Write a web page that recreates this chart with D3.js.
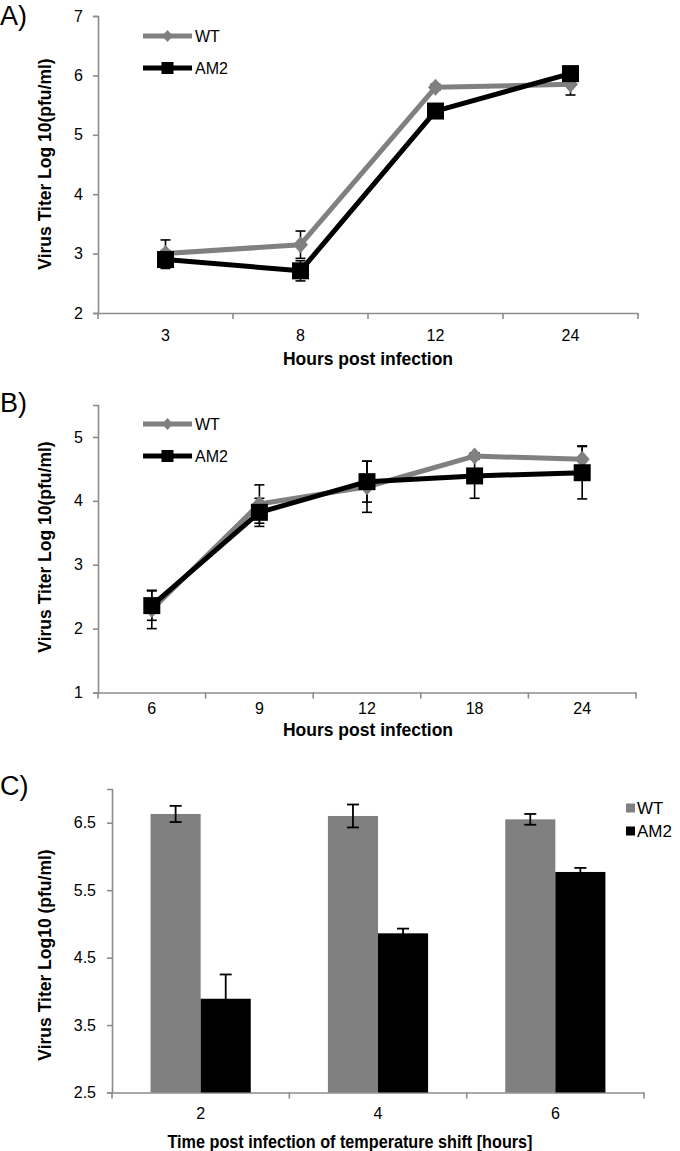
<!DOCTYPE html>
<html><head><meta charset="utf-8">
<script src="https://cdn.jsdelivr.net/npm/d3@7"></script>
<style>body{margin:0;background:#fff}svg{display:block;font-family:"Liberation Sans",Arial,sans-serif}</style>
</head><body><svg id="c" width="680" height="1151"></svg>
<script>
// Panel A
const aCats = ["3","8","12","24"];
const aWT = [3.0, 3.15, 5.8, 5.85];
const aWTerr = [0.23, 0.23, 0.05, 0.18];
const aAM2 = [2.9, 2.71, 5.4, 6.03];
const aAM2err = [0.15, 0.17, 0.1, 0.05];
const aTicks = [2,3,4,5,6,7];
// Panel B
const bCats = ["6","9","12","18","24"];
const bWT = [2.3, 3.95, 4.22, 4.7, 4.65];
const bWTerr = [0.3, 0.3, 0.4, 0.05, 0.21];
const bAM2 = [2.36, 3.82, 4.3, 4.39, 4.44];
const bAM2err = [0.23, 0.22, 0.32, 0.35, 0.41];
const bTicks = [1,2,3,4,5];
// Panel C
const cCats = ["2","4","6"];
const cWT = [6.63, 6.6, 6.55];
const cWTerr = [0.12, 0.17, 0.08];
const cAM2 = [3.89, 4.86, 5.77];
const cAM2err = [0.36, 0.07, 0.06];
const cTicks = [2.5,3.5,4.5,5.5,6.5];
const seriesNames = ["WT","AM2"];

const svg = d3.select("#c");
const GREY = "#808080", AXIS = "#8c8c8c";
const FONT = 16, TFONT = 17.5, PFONT = 27;

function styleAxis(g){
  g.select(".domain").attr("stroke",AXIS).attr("stroke-width",1.6);
  g.selectAll(".tick line").attr("stroke",AXIS).attr("stroke-width",1.6);
  g.selectAll(".tick text").attr("fill","#000").attr("font-size",FONT).attr("font-family","Liberation Sans, Arial, sans-serif");
}

function linePanel(o){
  const x = d3.scaleBand().domain(o.cats).range([o.x0,o.x1]);
  const y = d3.scaleLinear().domain(o.ydom).range([o.y1,o.y0]);
  const gy = svg.append("g").attr("transform",`translate(${o.x0},0)`)
    .call(d3.axisLeft(y).tickValues(o.ticks).tickSize(5).tickPadding(10).tickFormat(d3.format("d")));
  styleAxis(gy);
  const gx = svg.append("g").attr("transform",`translate(0,${o.y1})`)
    .call(d3.axisBottom(x).tickSize(0).tickPadding(o.xpad));
  styleAxis(gx);
  const bounds = o.cats.map(c=>x(c)).concat([o.x1]);
  gx.selectAll(".btick").data(bounds).enter().append("line")
    .attr("x1",d=>d).attr("x2",d=>d).attr("y1",0).attr("y2",6)
    .attr("stroke",AXIS).attr("stroke-width",1.6);
  svg.append("text").attr("x",o.xtx).attr("y",o.xty).attr("text-anchor","middle")
    .attr("font-weight","bold").attr("font-size",TFONT).text("Hours post infection");
  svg.append("text").attr("transform",`translate(${o.ytx},${o.yty}) rotate(-90)`).attr("text-anchor","middle")
    .attr("font-weight","bold").attr("font-size",TFONT).text("Virus Titer Log 10(pfu/ml)");
  svg.append("text").attr("x",0).attr("y",o.laby).attr("font-size",PFONT).text(o.label);
  const cx = c => x(c)+x.bandwidth()/2;
  const line = d3.line().x((d,i)=>cx(o.cats[i])).y(d=>y(d));
  const series = [
    {vals:o.wt, err:o.wterr, color:GREY, m:"diamond"},
    {vals:o.am, err:o.amerr, color:"#000", m:"square"}
  ];
  series.forEach(s=>{
    s.vals.forEach((v,i)=>{
      const g = svg.append("g").attr("stroke","#000").attr("stroke-width",1.6);
      const X = cx(o.cats[i]);
      g.append("line").attr("x1",X).attr("x2",X).attr("y1",y(v+s.err[i])).attr("y2",y(v-s.err[i]));
      [v+s.err[i], v-s.err[i]].forEach(e=>g.append("line").attr("x1",X-5).attr("x2",X+5).attr("y1",y(e)).attr("y2",y(e)));
    });
  });
  series.forEach(s=>{
    svg.append("path").datum(s.vals).attr("d",line).attr("fill","none")
      .attr("stroke",s.color).attr("stroke-width",5).attr("stroke-linejoin","round");
    s.vals.forEach((v,i)=>{
      const X = cx(o.cats[i]), Y = y(v);
      if(s.m==="diamond"){
        svg.append("path").attr("d",`M${X},${Y-8.5}L${X+7.5},${Y}L${X},${Y+8.5}L${X-7.5},${Y}Z`).attr("fill",s.color);
      } else {
        svg.append("rect").attr("x",X-8.5).attr("y",Y-8.5).attr("width",17).attr("height",17).attr("fill",s.color);
      }
    });
  });
  seriesNames.forEach((n,i)=>{
    const Y = o.legY[i];
    svg.append("line").attr("x1",143).attr("x2",192).attr("y1",Y).attr("y2",Y)
      .attr("stroke",i?"#000":GREY).attr("stroke-width",5);
    if(i) svg.append("rect").attr("x",161.5).attr("y",Y-6).attr("width",12).attr("height",12).attr("fill","#000");
    else svg.append("path").attr("d",`M167.5,${Y-6}L173,${Y}L167.5,${Y+6}L162,${Y}Z`).attr("fill",GREY);
    svg.append("text").attr("x",195).attr("y",Y+6).attr("font-size",FONT).text(n);
  });
}

linePanel({cats:aCats, wt:aWT, wterr:aWTerr, am:aAM2, amerr:aAM2err, ticks:aTicks,
  ydom:[2,7], x0:98, x1:638, y0:16, y1:313, xpad:16.6, xtx:368, xty:365, ytx:51, yty:164,
  label:"A)", laby:25, legY:[36,68]});
linePanel({cats:bCats, wt:bWT, wterr:bWTerr, am:bAM2, amerr:bAM2err, ticks:bTicks,
  ydom:[1,5.5], x0:98, x1:636, y0:405, y1:692.5, xpad:10.2, xtx:368, xty:736, ytx:51, yty:547,
  label:"B)", laby:412, legY:[424,456]});

// Panel C (bar chart)
(function(){
  const x0=112, x1=644, y0=789, y1=1092.5;
  const x = d3.scaleBand().domain(cCats).range([x0,x1]).paddingInner(0.435).paddingOuter(0.2175);
  const xs = d3.scaleBand().domain(seriesNames).range([0,x.bandwidth()]);
  const y = d3.scaleLinear().domain([2.5,7]).range([y1,y0]);
  const gy = svg.append("g").attr("transform",`translate(${x0},0)`)
    .call(d3.axisLeft(y).tickValues(cTicks).tickSize(5).tickPadding(11).tickFormat(d3.format(".1f")));
  styleAxis(gy);
  const xb = d3.scaleBand().domain(cCats).range([x0,x1]);
  const gx = svg.append("g").attr("transform",`translate(0,${y1})`)
    .call(d3.axisBottom(xb).tickSize(0).tickPadding(15));
  styleAxis(gx);
  const bounds = cCats.map(c=>xb(c)).concat([x1]);
  gx.selectAll(".btick").data(bounds).enter().append("line")
    .attr("x1",d=>d).attr("x2",d=>d).attr("y1",0).attr("y2",6)
    .attr("stroke",AXIS).attr("stroke-width",1.6);
  const data = [cWT, cAM2], errs=[cWTerr,cAM2err], cols=[GREY,"#000"];
  data.forEach((vals,s)=>{
    vals.forEach((v,i)=>{
      const X = x(cCats[i]) + xs(seriesNames[s]);
      svg.append("rect").attr("x",X).attr("y",y(v)).attr("width",xs.bandwidth()).attr("height",y1-y(v)).attr("fill",cols[s]);
    });
  });
  data.forEach((vals,s)=>{
    vals.forEach((v,i)=>{
      const X = x(cCats[i]) + xs(seriesNames[s]) + xs.bandwidth()/2;
      const g = svg.append("g").attr("stroke","#000").attr("stroke-width",1.8);
      g.append("line").attr("x1",X).attr("x2",X).attr("y1",y(v+errs[s][i])).attr("y2",y(v-errs[s][i]));
      [v+errs[s][i], v-errs[s][i]].forEach(e=>g.append("line").attr("x1",X-6).attr("x2",X+6).attr("y1",y(e)).attr("y2",y(e)));
    });
  });
  seriesNames.forEach((n,i)=>{
    const Y = 808 + i*23;
    svg.append("rect").attr("x",626).attr("y",Y-4.5).attr("width",9).attr("height",9).attr("fill",cols[i]);
    svg.append("text").attr("x",637).attr("y",Y+6).attr("font-size",FONT+1).text(n);
  });
  svg.append("text").attr("x",350).attr("y",1148).attr("text-anchor","middle")
    .attr("font-weight","bold").attr("font-size",TFONT).attr("textLength",365).attr("lengthAdjust","spacingAndGlyphs")
    .text("Time post infection of temperature shift [hours]");
  svg.append("text").attr("transform",`translate(51,955) rotate(-90)`).attr("text-anchor","middle")
    .attr("font-weight","bold").attr("font-size",TFONT).text("Virus Titer Log10 (pfu/ml)");
  svg.append("text").attr("x",0).attr("y",795).attr("font-size",PFONT).text("C)");
})();
</script></body></html>
